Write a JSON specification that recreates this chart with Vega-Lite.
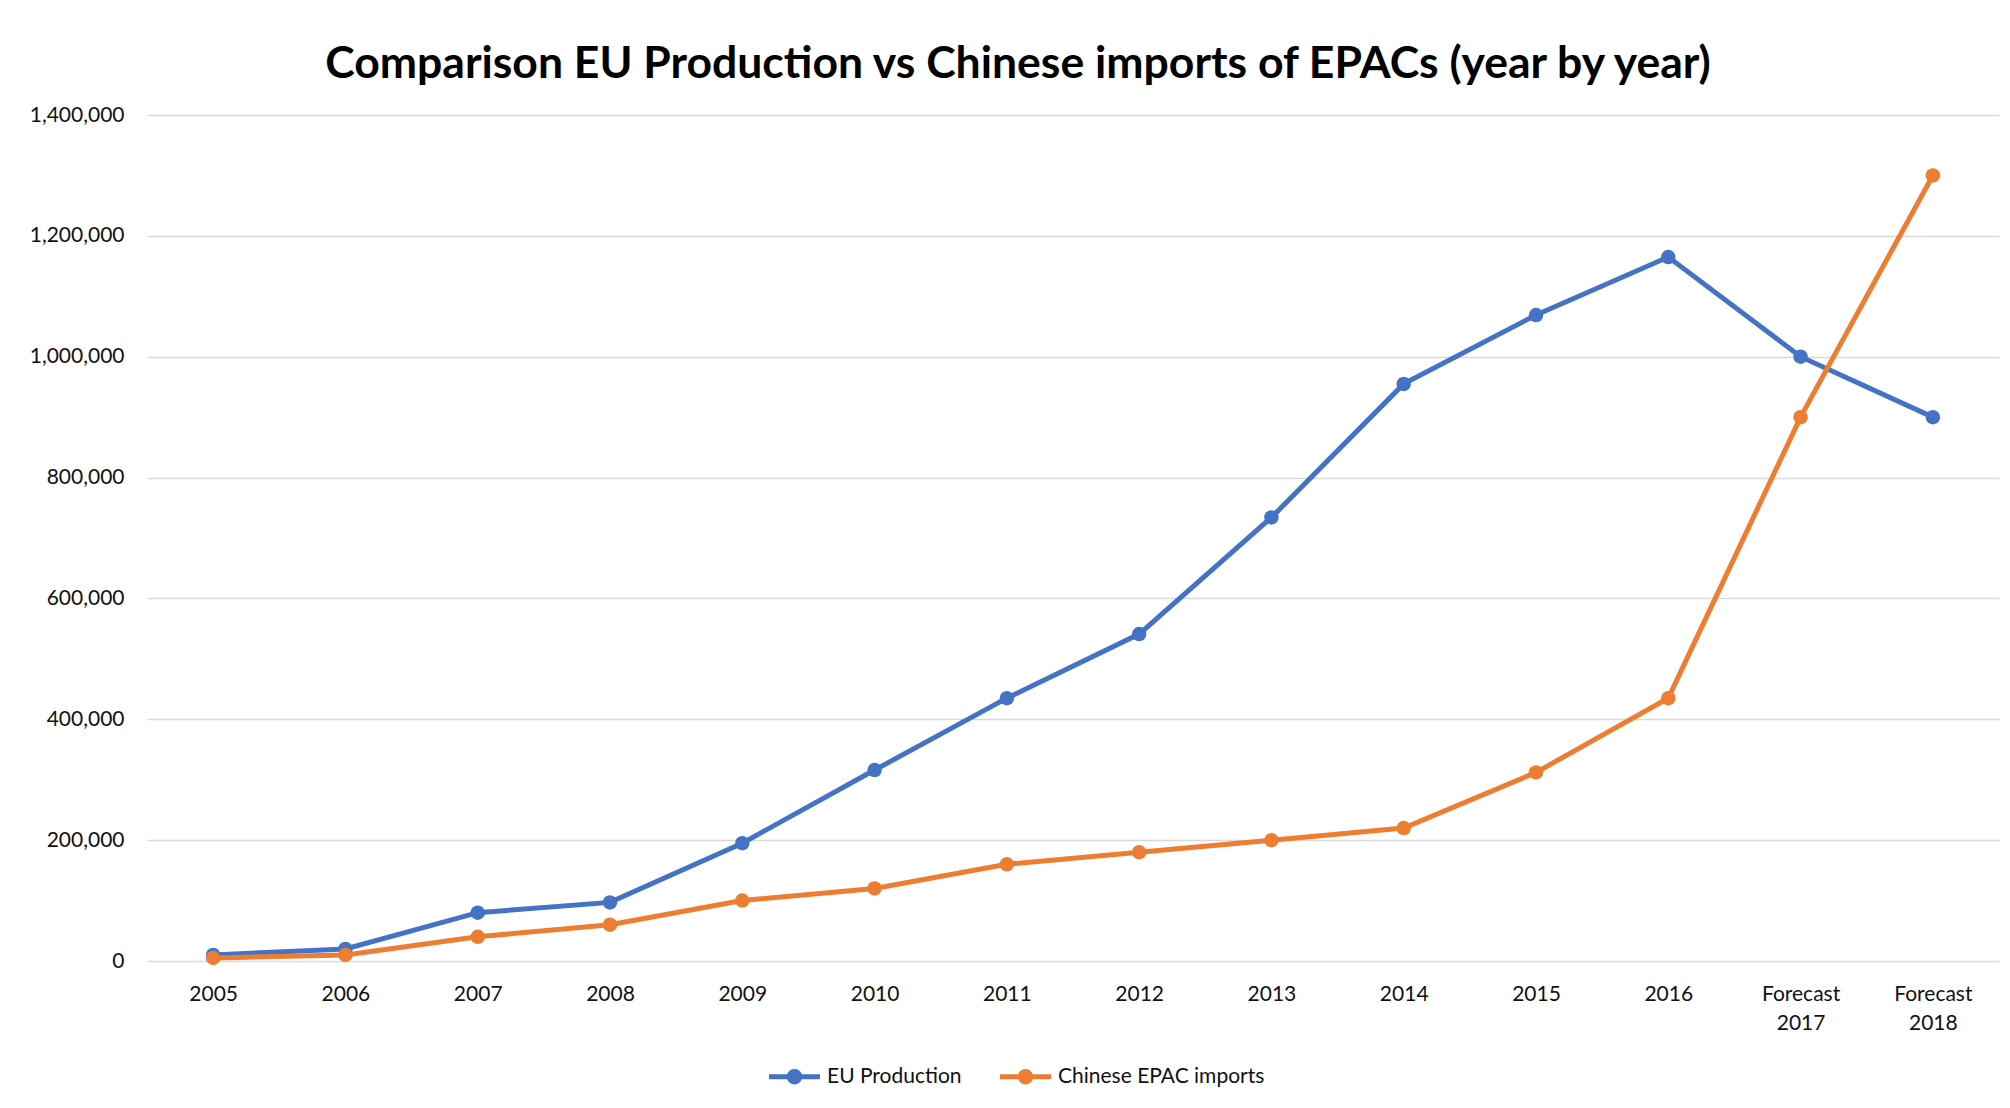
{
  "$schema": "https://vega.github.io/schema/vega-lite/v6.json",
  "width": 1852,
  "height": 846,
  "autosize": {"type": "none"},
  "padding": {"left": 147, "top": 115, "right": 11, "bottom": 147},
  "background": "white",
  "title": {
    "text": "Comparison EU Production vs Chinese imports of EPACs (year by year)",
    "font": "Lato",
    "fontWeight": "bold",
    "fontSize": 44.5,
    "color": "#000000",
    "anchor": "middle",
    "dx": -55,
    "baseline": "alphabetic",
    "offset": -18
  },
  "config": {
    "view": {"stroke": null},
    "font": "Lato",
    "axis": {
      "labelFont": "Lato",
      "labelFontSize": 21,
      "labelColor": "#111111",
      "domain": false,
      "ticks": false,
      "title": null
    }
  },
  "data": {
    "values": [
      {"year": "2005", "series": "EU Production", "value": 10000},
      {"year": "2006", "series": "EU Production", "value": 20000},
      {"year": "2007", "series": "EU Production", "value": 80000},
      {"year": "2008", "series": "EU Production", "value": 97000},
      {"year": "2009", "series": "EU Production", "value": 195000},
      {"year": "2010", "series": "EU Production", "value": 316000},
      {"year": "2011", "series": "EU Production", "value": 435000},
      {"year": "2012", "series": "EU Production", "value": 541000},
      {"year": "2013", "series": "EU Production", "value": 734000},
      {"year": "2014", "series": "EU Production", "value": 955000},
      {"year": "2015", "series": "EU Production", "value": 1069000},
      {"year": "2016", "series": "EU Production", "value": 1165000},
      {"year": "Forecast 2017", "series": "EU Production", "value": 1000000},
      {"year": "Forecast 2018", "series": "EU Production", "value": 900000},
      {"year": "2005", "series": "Chinese EPAC imports", "value": 5000},
      {"year": "2006", "series": "Chinese EPAC imports", "value": 10000},
      {"year": "2007", "series": "Chinese EPAC imports", "value": 40000},
      {"year": "2008", "series": "Chinese EPAC imports", "value": 60000},
      {"year": "2009", "series": "Chinese EPAC imports", "value": 100000},
      {"year": "2010", "series": "Chinese EPAC imports", "value": 120000},
      {"year": "2011", "series": "Chinese EPAC imports", "value": 160000},
      {"year": "2012", "series": "Chinese EPAC imports", "value": 180000},
      {"year": "2013", "series": "Chinese EPAC imports", "value": 200000},
      {"year": "2014", "series": "Chinese EPAC imports", "value": 220000},
      {"year": "2015", "series": "Chinese EPAC imports", "value": 312000},
      {"year": "2016", "series": "Chinese EPAC imports", "value": 435000},
      {"year": "Forecast 2017", "series": "Chinese EPAC imports", "value": 900000},
      {"year": "Forecast 2018", "series": "Chinese EPAC imports", "value": 1300000}
    ]
  },
  "encoding": {
    "x": {
      "field": "year",
      "type": "ordinal",
      "sort": null,
      "scale": {"type": "point", "padding": 0.5},
      "axis": {
        "labelAngle": 0,
        "labelPadding": 22,
        "labelLineHeight": 29,
        "labelExpr": "indexof(datum.label, 'Forecast') >= 0 ? split(datum.label, ' ') : datum.label",
        "grid": false
      }
    },
    "y": {
      "field": "value",
      "type": "quantitative",
      "scale": {"domain": [0, 1400000], "nice": false},
      "axis": {
        "values": [0, 200000, 400000, 600000, 800000, 1000000, 1200000, 1400000],
        "format": ",d",
        "labelPadding": 23,
        "grid": true,
        "gridColor": "#D9D9D9",
        "gridWidth": 1.4
      }
    },
    "color": {
      "field": "series",
      "type": "nominal",
      "scale": {"domain": ["EU Production", "Chinese EPAC imports"], "range": ["#4472C4", "#ED7D31"]},
      "legend": {
        "title": null,
        "orient": "none",
        "direction": "horizontal",
        "legendX": 622,
        "legendY": 936,
        "labelFont": "Lato",
        "labelFontSize": 21,
        "labelColor": "#111111",
        "labelLimit": 0,
        "labelOffset": 7,
        "columnPadding": 38,
        "symbolSize": 2601,
        "symbolType": "M-1,-0.1L1,-0.1L1,0.1L-1,0.1Z M0.3,0A0.3,0.3,0,1,1,-0.3,0A0.3,0.3,0,1,1,0.3,0Z",
        "symbolStrokeWidth": 0,
        "encode": {
          "symbols": {
            "update": {
              "fill": {"scale": "color", "field": "value"},
              "stroke": {"value": "transparent"},
              "opacity": {"value": 1}
            }
          }
        }
      }
    }
  },
  "layer": [
    {"mark": {"type": "line", "strokeWidth": 5}},
    {"mark": {"type": "point", "filled": true, "size": 210, "opacity": 1}}
  ]
}
